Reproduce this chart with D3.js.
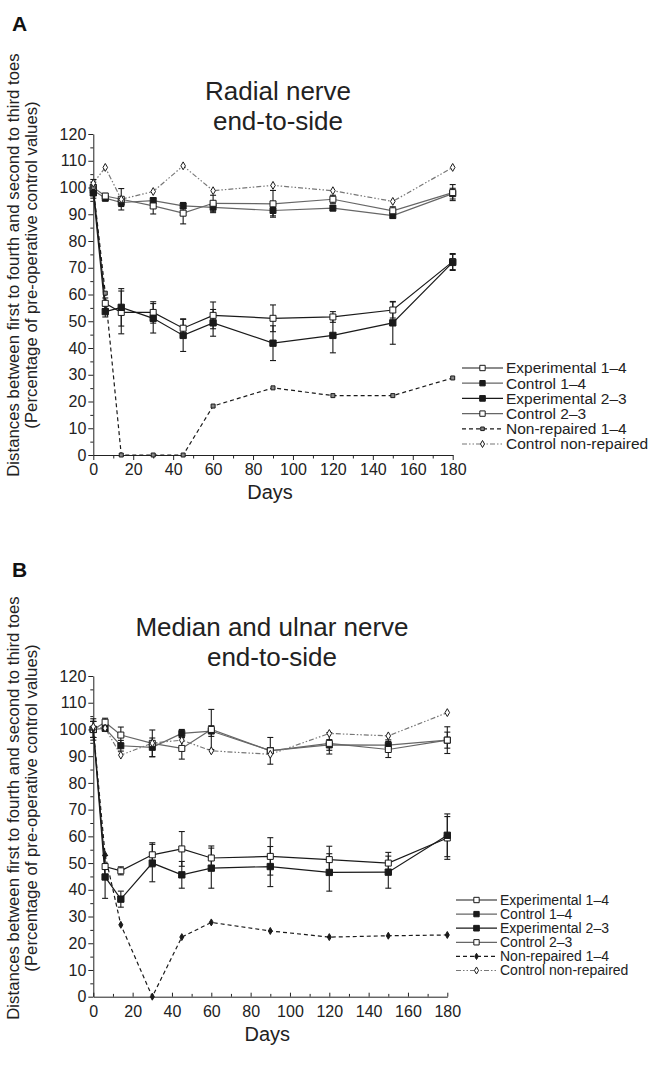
<!DOCTYPE html>
<html>
<head>
<meta charset="utf-8">
<script src="https://cdn.jsdelivr.net/npm/d3@7"></script>
<style>
  body { margin: 0; background: #fff; font-family: "Liberation Sans", Arial, sans-serif; }
  text { fill: #222; }
</style>
</head>
<body>
<script>
// days of measurement (shared by both panels)
const days = [0, 6, 14, 30, 45, 60, 90, 120, 150, 180];
const legendLabels = ["Experimental 1\u20134", "Control 1\u20134", "Experimental 2\u20133",
  "Control 2\u20133", "Non-repaired 1\u20134", "Control non-repaired"];
const xTicks = [0, 20, 40, 60, 80, 100, 120, 140, 160, 180];
const yTicks = [0, 10, 20, 30, 40, 50, 60, 70, 80, 90, 100, 110, 120];

// Panel A - radial nerve
const radialExp14 = [100, 56.7, 53.3, 53.3, 47.4, 52.2, 51.1, 51.6, 54.2, 72.3];
const radialExp14Err = [2, 2, 8, 4, 3.5, 5, 5, 2, 3, 3];
const radialCtrl14 = [99, 96, 94.4, 95.1, 93.1, 92.6, 91.4, 92.3, 89.5, 97.7];
const radialCtrl14Err = [1.5, 1, 1.5, 1, 1, 2, 2, 1, 1, 2];
const radialExp23 = [98, 53.6, 55.2, 51.1, 44.7, 49.4, 41.8, 44.7, 49.4, 72];
const radialExp23Err = [2, 2, 7, 5.5, 6, 5, 6.5, 6.5, 8, 3];
const radialCtrl23 = [100, 96.8, 95.6, 93.1, 90.4, 94.1, 93.9, 95.6, 91.3, 98.1];
const radialCtrl23Err = [3, 1, 4, 3, 4, 3, 5, 1.5, 1.5, 3];
const radialNonRep = [100, 60.5, 0, 0, 0, 18.3, 25.1, 22.2, 22.2, 28.8];
const radialCtrlNonRep = [101.6, 107.5, 95.6, 98.5, 108.1, 98.8, 100.8, 98.8, 94.8, 107.5];

// Panel B - median and ulnar nerve
const medianExp14 = [100, 48.7, 47.1, 53.1, 55.3, 51.9, 52.5, 51.3, 50.0, 59.4];
const medianExp14Err = [3, 1, 1.5, 4.5, 6.5, 4.5, 7, 5, 4, 8];
const medianCtrl14 = [100, 100.4, 93.9, 93.3, 98.5, 99.4, 92.1, 94.2, 94.1, 96];
const medianCtrl14Err = [3, 1, 2, 3.5, 1.5, 2, 1, 2, 2, 3];
const medianExp23 = [100, 44.8, 36.5, 50, 45.6, 48.1, 48.7, 46.5, 46.6, 60.4];
const medianExp23Err = [3, 8, 3, 7, 5, 7.5, 7.5, 7, 6, 8];
const medianCtrl23 = [100, 102.7, 97.9, 94.8, 92.9, 100, 92.0, 94.8, 92.5, 96.0];
const medianCtrl23Err = [4, 1.5, 3, 5, 4, 7.5, 5, 4, 3, 5];
const medianNonRep = [100, 53.1, 26.9, 0, 22.3, 27.8, 24.6, 22.3, 22.8, 23.1];
const medianCtrlNonRep = [101, 100.5, 90.4, 94.9, 96, 92, 90.7, 98.5, 97.6, 106.3];

const svg = d3.select("body").append("svg")
  .attr("width", 664)
  .attr("height", 1071);

// line / marker styles for the six series, in legend order
function styles(nonRepMarker) {
  return [
    { color: "#1a1a1a", dash: null, shape: d3.symbolSquare, size: 36, fill: "#fff" },
    { color: "#666", dash: null, shape: d3.symbolSquare, size: 36, fill: "#1a1a1a" },
    { color: "#1a1a1a", dash: null, shape: d3.symbolSquare, size: 40, fill: "#1a1a1a" },
    { color: "#666", dash: null, shape: d3.symbolSquare, size: 36, fill: "#fff" },
    { color: "#1a1a1a", dash: "4,3", shape: nonRepMarker.shape, size: nonRepMarker.size, fill: nonRepMarker.fill },
    { color: "#777", dash: "5,2,1.5,2,1.5,2", shape: d3.symbolDiamond, size: 18, fill: "#fff" }
  ];
}

function drawPanel(cfg) {
  const x = d3.scaleLinear().domain([0, 180]).range([cfg.left, cfg.right]);
  const y = d3.scaleLinear().domain([0, 120]).range([cfg.bottom, cfg.top]);
  const g = svg.append("g");

  // panel letter
  g.append("text").attr("x", 12).attr("y", cfg.letterY)
    .attr("font-size", 21).attr("font-weight", "bold").style("fill", "#111")
    .text(cfg.letter);

  // title
  cfg.title.forEach((t, i) => {
    g.append("text").attr("x", cfg.titleX).attr("y", cfg.titleY + i * 30)
      .attr("text-anchor", "middle").attr("font-size", 26).text(t);
  });

  // y axis title (two rotated lines)
  const yMid = cfg.yTitleMid;
  g.append("text").attr("transform", `translate(19,${yMid}) rotate(-90)`)
    .attr("text-anchor", "middle").attr("font-size", 16.8)
    .text("Distances between first to fourth and second to third toes");
  g.append("text").attr("transform", `translate(37,${yMid}) rotate(-90)`)
    .attr("text-anchor", "middle").attr("font-size", 16.8)
    .text("(Percentage of pre-operative control values)");

  // axes
  g.append("g").attr("transform", `translate(0,${cfg.bottom})`)
    .call(d3.axisBottom(x).tickValues(xTicks).tickSizeInner(cfg.xTick).tickSizeOuter(0)
      .tickPadding(cfg.xPad));
  g.append("g").attr("transform", `translate(0,${cfg.bottom})`)
    .call(d3.axisBottom(x).tickValues(d3.range(10, 180, 20)).tickSizeInner(cfg.xTick * 0.7)
      .tickSizeOuter(0).tickFormat(""))
    .select(".domain").remove();
  g.append("g").attr("transform", `translate(${cfg.left},0)`)
    .call(d3.axisLeft(y).tickValues(yTicks).tickSize(5).tickSizeOuter(0).tickPadding(2));
  g.append("g").attr("transform", `translate(${cfg.left},0)`)
    .call(d3.axisLeft(y).tickValues(d3.range(5, 120, 10)).tickSize(3).tickFormat(""))
    .select(".domain").remove();
  g.selectAll(".tick text").attr("font-size", 16).style("fill", "#222")
    .attr("font-family", "'Liberation Sans', Arial, sans-serif");
  g.selectAll(".domain, .tick line").attr("stroke", "#222");

  g.append("text").attr("x", (cfg.left + cfg.right) / 2 - 3).attr("y", cfg.bottom + 44)
    .attr("text-anchor", "middle").attr("font-size", 20).text("Days");

  const st = cfg.styles;
  const line = d3.line().x((d, i) => x(days[i])).y(d => y(d));

  // lines
  cfg.series.forEach((s, k) => {
    g.append("path").datum(s.values)
      .attr("d", line)
      .attr("fill", "none")
      .attr("stroke", st[k].color)
      .attr("stroke-width", 1.2)
      .attr("stroke-dasharray", st[k].dash);
  });

  // error bars
  cfg.series.forEach((s, k) => {
    if (!s.errors) return;
    const eb = g.append("g").attr("stroke", "#1a1a1a").attr("stroke-width", 1.1);
    s.values.forEach((v, i) => {
      const cx = x(days[i]);
      const lo = y(v - s.errors[i]);
      const hi = y(v + s.errors[i]);
      eb.append("line").attr("x1", cx).attr("x2", cx).attr("y1", lo).attr("y2", hi);
      eb.append("line").attr("x1", cx - 3).attr("x2", cx + 3).attr("y1", lo).attr("y2", lo);
      eb.append("line").attr("x1", cx - 3).attr("x2", cx + 3).attr("y1", hi).attr("y2", hi);
    });
  });

  // markers
  cfg.series.forEach((s, k) => {
    g.selectAll(null).data(s.values).enter().append("path")
      .attr("transform", (d, i) => `translate(${x(days[i])},${y(d)})`)
      .attr("d", d3.symbol().type(st[k].shape).size(st[k].size))
      .attr("fill", st[k].fill)
      .attr("stroke", "#1a1a1a")
      .attr("stroke-width", 1);
  });

  // legend
  const lg = cfg.legend;
  legendLabels.forEach((lab, k) => {
    const yy = lg.y + k * lg.step;
    g.append("line").attr("x1", lg.x1).attr("x2", lg.x2).attr("y1", yy).attr("y2", yy)
      .attr("stroke", st[k].color).attr("stroke-width", 1.2)
      .attr("stroke-dasharray", st[k].dash);
    g.append("path").attr("transform", `translate(${(lg.x1 + lg.x2) / 2},${yy})`)
      .attr("d", d3.symbol().type(st[k].shape).size(st[k].size * 0.8))
      .attr("fill", st[k].fill).attr("stroke", "#1a1a1a");
    g.append("text").attr("x", lg.x2 + 3).attr("y", yy).attr("dy", "0.35em")
      .attr("font-size", lg.font).text(lab);
  });
}

drawPanel({
  letter: "A", letterY: 31,
  title: ["Radial nerve", "end-to-side"], titleX: 278, titleY: 100,
  left: 93.3, right: 452.7, top: 134, bottom: 455,
  xTick: 5, xPad: 4, yTitleMid: 265,
  styles: styles({ shape: d3.symbolSquare, size: 16, fill: "#888" }),
  series: [
    { values: radialExp14, errors: radialExp14Err },
    { values: radialCtrl14, errors: radialCtrl14Err },
    { values: radialExp23, errors: radialExp23Err },
    { values: radialCtrl23, errors: radialCtrl23Err },
    { values: radialNonRep },
    { values: radialCtrlNonRep }
  ],
  legend: { x1: 462, x2: 503, y: 368, step: 15.2, font: 15.5 }
});

drawPanel({
  letter: "B", letterY: 577,
  title: ["Median and ulnar nerve", "end-to-side"], titleX: 272, titleY: 636,
  left: 93.3, right: 447.3, top: 676, bottom: 996.7,
  xTick: -4, xPad: 9, yTitleMid: 808,
  styles: styles({ shape: d3.symbolDiamond, size: 14, fill: "#1a1a1a" }),
  series: [
    { values: medianExp14, errors: medianExp14Err },
    { values: medianCtrl14, errors: medianCtrl14Err },
    { values: medianExp23, errors: medianExp23Err },
    { values: medianCtrl23, errors: medianCtrl23Err },
    { values: medianNonRep },
    { values: medianCtrlNonRep }
  ],
  legend: { x1: 456, x2: 497, y: 900, step: 14.1, font: 14 }
});
</script>
</body>
</html>
